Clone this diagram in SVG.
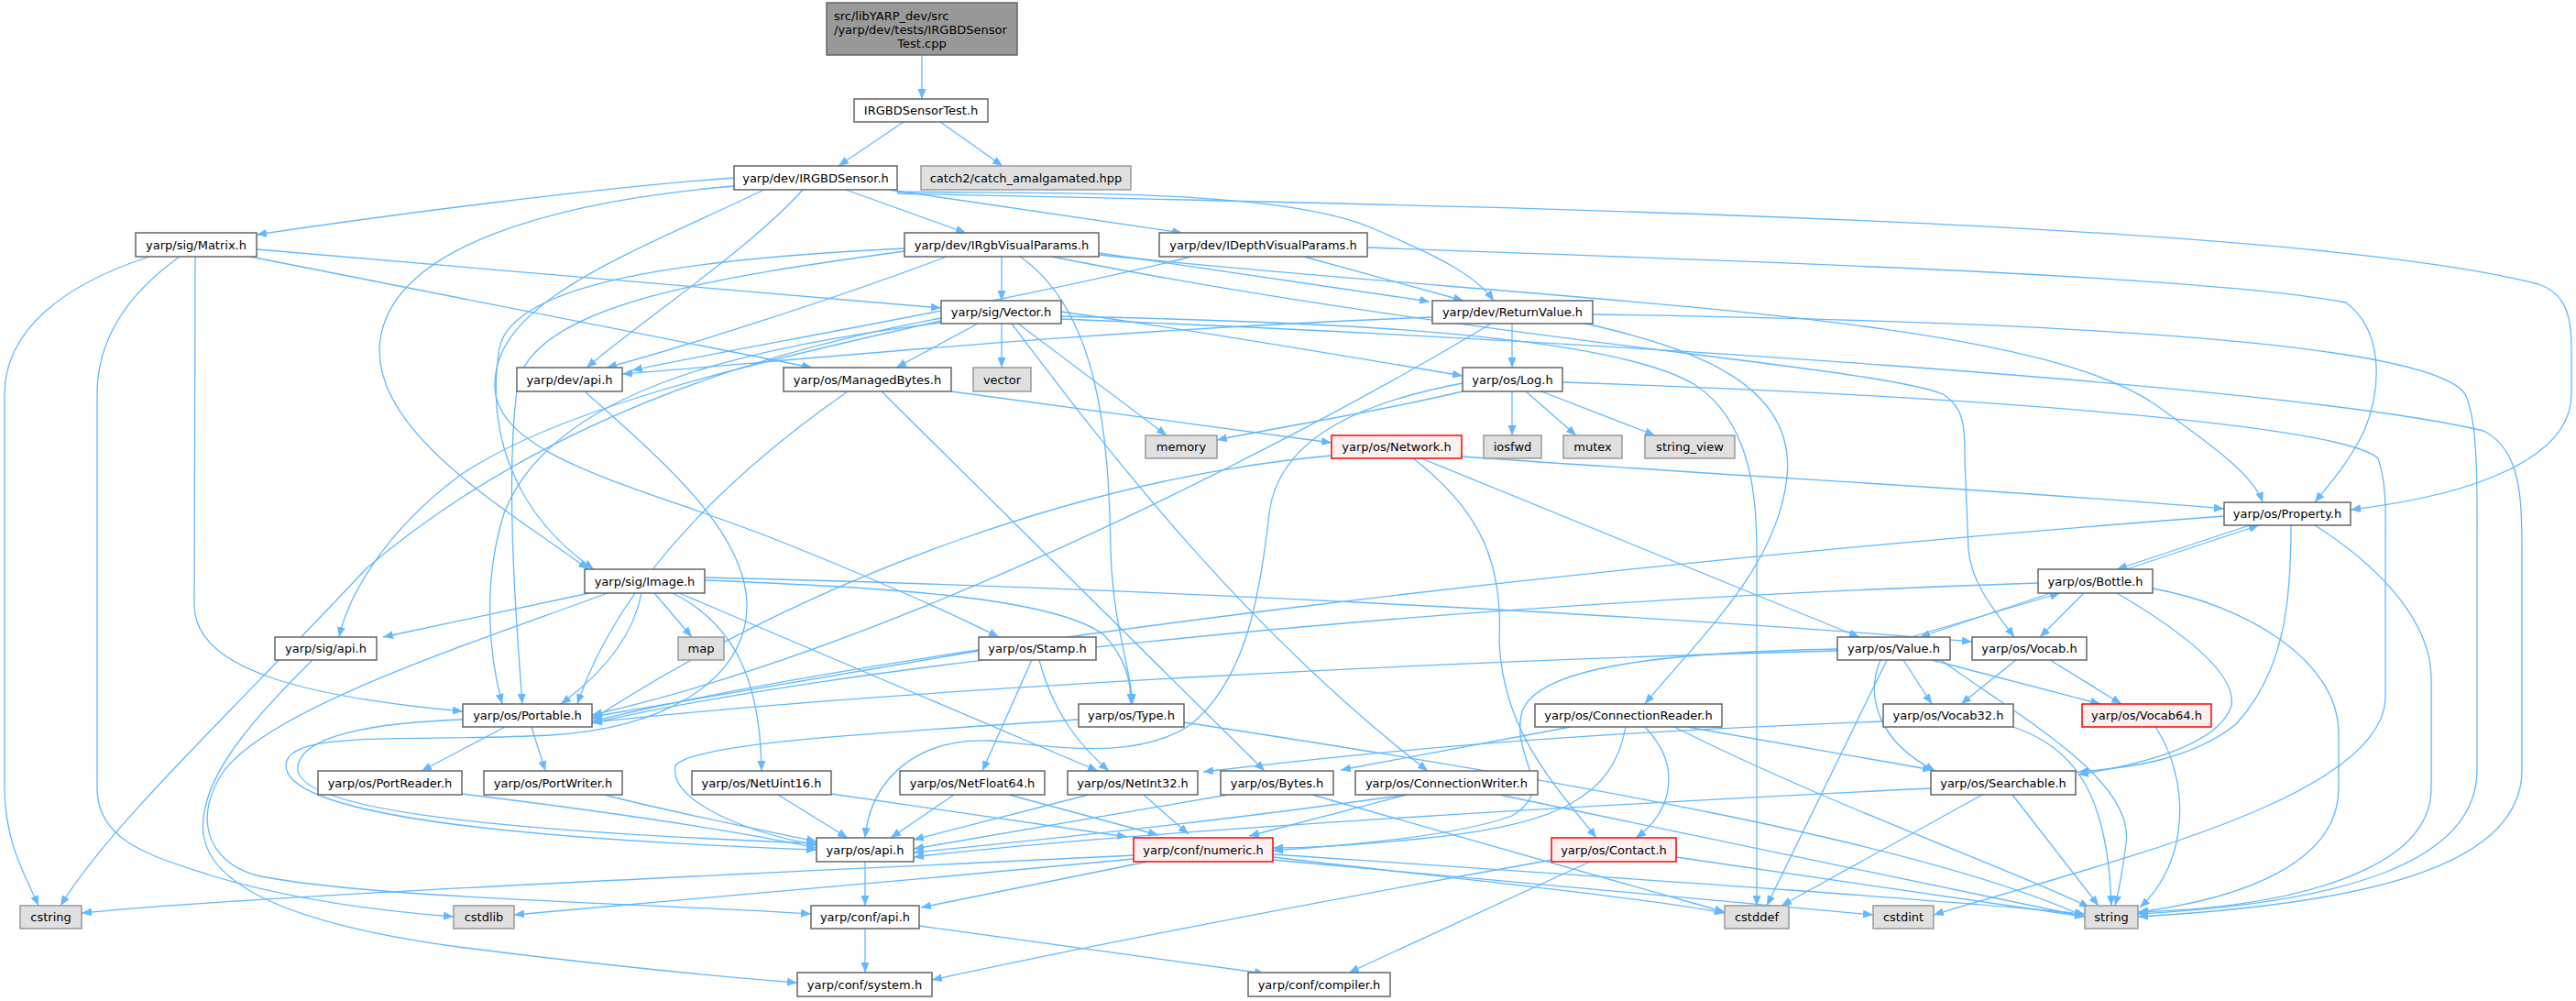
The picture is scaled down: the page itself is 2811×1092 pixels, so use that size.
<svg xmlns="http://www.w3.org/2000/svg" width="2811" height="1092" viewBox="0 0 2811 1092">
<defs>
<marker id="arr" markerUnits="userSpaceOnUse" markerWidth="12" markerHeight="9" refX="11" refY="4.5" orient="auto">
<path d="M0,0 L11,4.5 L0,9 z" fill="#63B8FF"/>
</marker>
<style>
.e{fill:none;stroke:#63B8FF;stroke-width:1.3;marker-end:url(#arr)}
.n rect{fill:#fff;stroke:#666;stroke-width:1.5}
.g rect{fill:#e0e0e0;stroke:#999;stroke-width:1.5}
.r rect{fill:#fff0f0;stroke:#f00;stroke-width:1.5}
.s rect{fill:#999;stroke:#666;stroke-width:1.5}
text{font-family:"DejaVu Sans","Liberation Sans",sans-serif;font-size:13px;fill:#000;text-anchor:middle}
</style>
</defs>
<rect width="2811" height="1092" fill="#fff"/>
<g id="edges">
<path class="e" d="M1006,60 L1006,108"/>
<path class="e" d="M986,133 L915,181"/>
<path class="e" d="M1026,133 L1094,181"/>
<path class="e" d="M801,194 C650,205 420,235 280,256"/>
<path class="e" d="M801,203 C600,220 430,270 415,370 C400,470 560,560 642,621"/>
<path class="e" d="M834,207 C680,280 540,330 540,420 C540,500 700,530 850,590 C950,630 1040,670 1090,695"/>
<path class="e" d="M876,207 C820,270 700,350 640,401"/>
<path class="e" d="M923,207 L1054,254"/>
<path class="e" d="M970,207 L1290,254"/>
<path class="e" d="M978,209 C1150,212 1400,205 1500,250 C1570,280 1610,300 1630,328"/>
<path class="e" d="M979,211 C1600,225 2500,240 2770,310 C2800,320 2806,345 2806,380 L2806,430 C2806,500 2700,540 2565,556"/>
<path class="e" d="M163,280 C70,310 5,360 5,430 L5,860 C5,920 30,960 42,988"/>
<path class="e" d="M196,280 C140,320 106,370 106,430 L106,860 C106,920 170,935 230,955 C330,985 430,995 495,1000"/>
<path class="e" d="M213,280 L212,660 C212,730 330,760 505,776"/>
<path class="e" d="M280,272 L1027,336"/>
<path class="e" d="M273,280 L886,401"/>
<path class="e" d="M1093,280 L1093,328"/>
<path class="e" d="M1033,280 C900,330 740,380 662,401"/>
<path class="e" d="M1199,276 L1560,329"/>
<path class="e" d="M1199,278 C1700,330 2200,340 2350,440 C2420,490 2460,520 2469,548"/>
<path class="e" d="M987,271 C800,280 560,300 545,380 C530,470 560,560 648,621"/>
<path class="e" d="M987,274 C800,300 580,330 565,420 C550,520 565,700 570,768"/>
<path class="e" d="M1113,280 C1200,340 1210,480 1212,600 C1214,680 1234,730 1236,768"/>
<path class="e" d="M1148,280 C1600,370 2050,400 2120,430 C2145,445 2144,470 2144,500 L2148,600 C2152,640 2180,670 2198,695"/>
<path class="e" d="M1300,280 C1100,330 800,380 690,404"/>
<path class="e" d="M1423,280 L1597,328"/>
<path class="e" d="M1492,270 C1900,285 2400,300 2560,330 C2600,360 2600,420 2580,470 C2560,510 2540,530 2526,548"/>
<path class="e" d="M1067,353 L978,401"/>
<path class="e" d="M1093,353 L1093,401"/>
<path class="e" d="M1111,353 L1273,475"/>
<path class="e" d="M1104,353 C1200,480 1350,680 1558,841"/>
<path class="e" d="M1158,340 C1300,360 1450,385 1596,410"/>
<path class="e" d="M1158,345 C1400,350 1750,360 1850,420 C1910,460 1917,540 1917,600 L1917,988"/>
<path class="e" d="M1158,348 C1700,370 2500,420 2710,470 C2750,490 2752,540 2752,600 L2752,840 C2752,940 2600,985 2333,1000"/>
<path class="e" d="M1027,347 C850,380 600,450 400,620 C250,780 120,900 66,988"/>
<path class="e" d="M1027,350 C800,400 600,450 500,520 C420,580 380,650 370,695"/>
<path class="e" d="M1027,352 C800,380 600,430 550,560 C525,640 535,720 548,768"/>
<path class="e" d="M1563,346 C1200,360 900,390 679,408"/>
<path class="e" d="M1627,353 C1450,460 1000,700 646,780"/>
<path class="e" d="M1650,353 L1650,401"/>
<path class="e" d="M1738,343 C2200,350 2650,370 2690,430 C2705,460 2703,540 2703,600 L2703,840 C2703,940 2560,985 2333,997"/>
<path class="e" d="M1730,353 C1850,380 1960,420 1950,520 C1940,620 1850,700 1795,768"/>
<path class="e" d="M925,427 C820,500 680,620 630,768"/>
<path class="e" d="M962,427 L1380,841"/>
<path class="e" d="M1038,427 L1453,483"/>
<path class="e" d="M1596,427 C1500,450 1400,465 1328,480"/>
<path class="e" d="M1596,418 C1480,440 1395,480 1385,560 C1375,650 1360,740 1300,790 C1240,830 1160,815 1080,808 C1000,805 950,850 944,914"/>
<path class="e" d="M1650,427 L1650,475"/>
<path class="e" d="M1665,427 L1720,475"/>
<path class="e" d="M1682,427 L1806,475"/>
<path class="e" d="M1705,417 C2100,430 2550,460 2595,500 C2605,530 2603,560 2603,600 L2603,760 C2603,870 2300,940 2110,998"/>
<path class="e" d="M1595,498 C1900,520 2200,535 2427,555"/>
<path class="e" d="M1551,500 L2029,695"/>
<path class="e" d="M1542,500 C1620,560 1640,620 1636,700 C1640,800 1700,860 1742,914"/>
<path class="e" d="M1453,497 C1200,520 900,620 646,785"/>
<path class="e" d="M2427,563 C1800,610 1000,700 646,787"/>
<path class="e" d="M2455,573 L2310,621"/>
<path class="e" d="M2320,621 L2465,573"/>
<path class="e" d="M2500,573 C2500,650 2495,730 2440,790 C2390,830 2320,838 2268,842"/>
<path class="e" d="M2526,573 C2600,620 2653,680 2653,740 L2653,860 C2653,950 2500,990 2333,995"/>
<path class="e" d="M643,647 L418,695"/>
<path class="e" d="M663,647 C520,700 300,770 245,840 C210,890 225,940 280,955 C400,980 700,985 885,997"/>
<path class="e" d="M700,647 C690,700 650,740 612,768"/>
<path class="e" d="M714,647 L755,695"/>
<path class="e" d="M734,647 C800,680 830,740 831,841"/>
<path class="e" d="M741,647 L1198,841"/>
<path class="e" d="M769,633 C950,640 1150,650 1205,693 C1230,720 1234,745 1234,768"/>
<path class="e" d="M769,630 C1200,640 1800,670 2152,700"/>
<path class="e" d="M1068,710 C900,740 750,765 646,782"/>
<path class="e" d="M1126,720 L1072,841"/>
<path class="e" d="M1134,720 C1150,780 1180,815 1210,841"/>
<path class="e" d="M1177,785 C950,800 760,810 737,835 C730,870 800,905 891,922"/>
<path class="e" d="M1292,788 C1700,850 2100,920 2275,1000"/>
<path class="e" d="M551,793 L460,841"/>
<path class="e" d="M580,793 L595,841"/>
<path class="e" d="M505,785 C420,788 323,800 325,840 C330,880 500,905 891,920"/>
<path class="e" d="M504,866 C700,890 820,910 891,925"/>
<path class="e" d="M659,867 C750,890 830,905 891,918"/>
<path class="e" d="M341,720 C280,780 215,850 222,910 C230,970 330,1010 500,1033 C650,1052 780,1065 870,1072"/>
<path class="e" d="M638,427 C720,500 815,580 815,660 C815,745 720,795 600,802 C450,810 312,795 312,835 C312,880 480,912 891,927"/>
<path class="e" d="M944,940 L944,988"/>
<path class="e" d="M944,1013 L944,1061"/>
<path class="e" d="M1003,1010 L1380,1062"/>
<path class="e" d="M849,867 L925,914"/>
<path class="e" d="M907,866 L1230,913"/>
<path class="e" d="M1041,867 L972,914"/>
<path class="e" d="M1101,867 L1264,911"/>
<path class="e" d="M1188,867 L997,916"/>
<path class="e" d="M1248,867 L1297,910"/>
<path class="e" d="M1340,867 L997,926"/>
<path class="e" d="M1432,867 L1882,995"/>
<path class="e" d="M1535,867 C1300,900 1100,920 997,930"/>
<path class="e" d="M1535,867 L1363,912"/>
<path class="e" d="M1636,867 L2275,1000"/>
<path class="e" d="M1714,793 L1463,840"/>
<path class="e" d="M1774,793 C1760,870 1700,900 1550,915 C1480,922 1430,925 1389,925"/>
<path class="e" d="M1795,793 C1840,840 1820,890 1785,914"/>
<path class="e" d="M1841,793 L2109,840"/>
<path class="e" d="M1827,793 C2000,880 2200,950 2280,990"/>
<path class="e" d="M2005,710 C1600,720 1000,750 646,788"/>
<path class="e" d="M2005,708 C1800,712 1670,730 1660,780 C1650,830 1700,860 1650,890 C1580,915 1450,923 1389,928"/>
<path class="e" d="M2085,695 L2248,647"/>
<path class="e" d="M2238,647 L2095,695"/>
<path class="e" d="M2077,720 L2108,768"/>
<path class="e" d="M2108,720 L2292,768"/>
<path class="e" d="M2052,720 C2035,760 2050,810 2112,841"/>
<path class="e" d="M2059,720 L1928,988"/>
<path class="e" d="M2118,720 C2200,780 2330,850 2320,920 C2315,960 2310,980 2308,988"/>
<path class="e" d="M2224,636 C1500,660 900,730 646,789"/>
<path class="e" d="M2274,647 L2226,695"/>
<path class="e" d="M2310,647 C2400,700 2440,740 2435,770 C2420,815 2330,835 2268,845"/>
<path class="e" d="M2349,642 C2450,660 2552,720 2552,800 L2552,860 C2552,940 2450,980 2333,995"/>
<path class="e" d="M2200,720 L2140,768"/>
<path class="e" d="M2237,720 L2315,768"/>
<path class="e" d="M2197,793 C2260,815 2300,860 2304,988"/>
<path class="e" d="M2055,787 C1700,800 1500,820 1313,842"/>
<path class="e" d="M2352,793 C2390,850 2390,940 2335,990"/>
<path class="e" d="M2107,860 C1700,880 1200,910 997,935"/>
<path class="e" d="M2163,867 L1944,988"/>
<path class="e" d="M2196,867 L2290,988"/>
<path class="e" d="M1694,938 C1400,990 1150,1040 1017,1069"/>
<path class="e" d="M1735,940 L1472,1061"/>
<path class="e" d="M1829,935 L2275,1000"/>
<path class="e" d="M1237,933 C900,950 300,975 89,996"/>
<path class="e" d="M1237,937 C1000,960 700,985 561,998"/>
<path class="e" d="M1252,940 L1005,990"/>
<path class="e" d="M1389,935 C1600,960 1800,980 1882,996"/>
<path class="e" d="M1389,938 C1700,965 1900,985 2044,998"/>
<path class="e" d="M1389,932 C1800,960 2100,980 2275,997"/>
</g>
<g id="src" class="s"><rect x="902" y="3" width="208" height="57"/><text x="910" y="21.5" style="text-anchor:start">src/libYARP_dev/src</text><text x="910" y="36.5" style="text-anchor:start">/yarp/dev/tests/IRGBDSensor</text><text x="1006" y="51.5">Test.cpp</text></g>
<g id="IRGBDSensorTest" class="n"><rect x="932" y="108" width="146" height="25"/><text x="1005" y="125">IRGBDSensorTest.h</text></g>
<g id="IRGBDSensor" class="n"><rect x="801" y="181" width="178" height="26"/><text x="890" y="198.5">yarp/dev/IRGBDSensor.h</text></g>
<g id="catch2" class="g"><rect x="1005" y="181" width="229" height="26"/><text x="1119.5" y="198.5">catch2/catch_amalgamated.hpp</text></g>
<g id="Matrix" class="n"><rect x="148" y="254" width="132" height="26"/><text x="214" y="271.5">yarp/sig/Matrix.h</text></g>
<g id="IRgbVisualParams" class="n"><rect x="987" y="254" width="212" height="26"/><text x="1093" y="271.5">yarp/dev/IRgbVisualParams.h</text></g>
<g id="IDepthVisualParams" class="n"><rect x="1265" y="254" width="227" height="26"/><text x="1378.5" y="271.5">yarp/dev/IDepthVisualParams.h</text></g>
<g id="Vector" class="n"><rect x="1027" y="328" width="131" height="25"/><text x="1092.5" y="345">yarp/sig/Vector.h</text></g>
<g id="ReturnValue" class="n"><rect x="1563" y="328" width="175" height="25"/><text x="1650.5" y="345">yarp/dev/ReturnValue.h</text></g>
<g id="devapi" class="n"><rect x="564" y="401" width="115" height="26"/><text x="621.5" y="418.5">yarp/dev/api.h</text></g>
<g id="ManagedBytes" class="n"><rect x="855" y="401" width="183" height="26"/><text x="946.5" y="418.5">yarp/os/ManagedBytes.h</text></g>
<g id="vector" class="g"><rect x="1062" y="401" width="63" height="26"/><text x="1093.5" y="418.5">vector</text></g>
<g id="Log" class="n"><rect x="1596" y="401" width="109" height="26"/><text x="1650.5" y="418.5">yarp/os/Log.h</text></g>
<g id="memory" class="g"><rect x="1250" y="475" width="78" height="25"/><text x="1289" y="492">memory</text></g>
<g id="Network" class="r"><rect x="1453" y="475" width="142" height="25"/><text x="1524" y="492">yarp/os/Network.h</text></g>
<g id="iosfwd" class="g"><rect x="1619" y="475" width="63" height="25"/><text x="1650.5" y="492">iosfwd</text></g>
<g id="mutex" class="g"><rect x="1706" y="475" width="64" height="25"/><text x="1738" y="492">mutex</text></g>
<g id="string_view" class="g"><rect x="1795" y="475" width="98" height="25"/><text x="1844" y="492">string_view</text></g>
<g id="Property" class="n"><rect x="2427" y="548" width="138" height="25"/><text x="2496" y="565">yarp/os/Property.h</text></g>
<g id="Image" class="n"><rect x="638" y="621" width="131" height="26"/><text x="703.5" y="638.5">yarp/sig/Image.h</text></g>
<g id="Bottle" class="n"><rect x="2224" y="621" width="125" height="26"/><text x="2286.5" y="638.5">yarp/os/Bottle.h</text></g>
<g id="sigapi" class="n"><rect x="300" y="695" width="111" height="25"/><text x="355.5" y="712">yarp/sig/api.h</text></g>
<g id="map" class="g"><rect x="740" y="695" width="50" height="25"/><text x="765" y="712">map</text></g>
<g id="Stamp" class="n"><rect x="1068" y="695" width="128" height="25"/><text x="1132" y="712">yarp/os/Stamp.h</text></g>
<g id="Value" class="n"><rect x="2005" y="695" width="123" height="25"/><text x="2066.5" y="712">yarp/os/Value.h</text></g>
<g id="Vocab" class="n"><rect x="2152" y="695" width="125" height="25"/><text x="2214.5" y="712">yarp/os/Vocab.h</text></g>
<g id="Portable" class="n"><rect x="505" y="768" width="141" height="25"/><text x="575.5" y="785">yarp/os/Portable.h</text></g>
<g id="Type" class="n"><rect x="1177" y="768" width="115" height="25"/><text x="1234.5" y="785">yarp/os/Type.h</text></g>
<g id="ConnectionReader" class="n"><rect x="1675" y="768" width="204" height="25"/><text x="1777" y="785">yarp/os/ConnectionReader.h</text></g>
<g id="Vocab32" class="n"><rect x="2055" y="768" width="142" height="25"/><text x="2126" y="785">yarp/os/Vocab32.h</text></g>
<g id="Vocab64" class="r"><rect x="2272" y="768" width="141" height="25"/><text x="2342.5" y="785">yarp/os/Vocab64.h</text></g>
<g id="PortReader" class="n"><rect x="347" y="841" width="157" height="26"/><text x="425.5" y="858.5">yarp/os/PortReader.h</text></g>
<g id="PortWriter" class="n"><rect x="528" y="841" width="151" height="26"/><text x="603.5" y="858.5">yarp/os/PortWriter.h</text></g>
<g id="NetUint16" class="n"><rect x="755" y="841" width="152" height="26"/><text x="831" y="858.5">yarp/os/NetUint16.h</text></g>
<g id="NetFloat64" class="n"><rect x="982" y="841" width="158" height="26"/><text x="1061" y="858.5">yarp/os/NetFloat64.h</text></g>
<g id="NetInt32" class="n"><rect x="1165" y="841" width="142" height="26"/><text x="1236" y="858.5">yarp/os/NetInt32.h</text></g>
<g id="Bytes" class="n"><rect x="1332" y="841" width="123" height="26"/><text x="1393.5" y="858.5">yarp/os/Bytes.h</text></g>
<g id="ConnectionWriter" class="n"><rect x="1479" y="841" width="199" height="26"/><text x="1578.5" y="858.5">yarp/os/ConnectionWriter.h</text></g>
<g id="Searchable" class="n"><rect x="2107" y="841" width="158" height="26"/><text x="2186" y="858.5">yarp/os/Searchable.h</text></g>
<g id="osapi" class="n"><rect x="891" y="914" width="106" height="26"/><text x="944" y="931.5">yarp/os/api.h</text></g>
<g id="numeric" class="r"><rect x="1237" y="914" width="152" height="26"/><text x="1313" y="931.5">yarp/conf/numeric.h</text></g>
<g id="Contact" class="r"><rect x="1693" y="914" width="136" height="26"/><text x="1761" y="931.5">yarp/os/Contact.h</text></g>
<g id="cstring" class="g"><rect x="22" y="988" width="67" height="25"/><text x="55.5" y="1005">cstring</text></g>
<g id="cstdlib" class="g"><rect x="495" y="988" width="66" height="25"/><text x="528" y="1005">cstdlib</text></g>
<g id="confapi" class="n"><rect x="885" y="988" width="118" height="25"/><text x="944" y="1005">yarp/conf/api.h</text></g>
<g id="cstddef" class="g"><rect x="1882" y="988" width="70" height="25"/><text x="1917" y="1005">cstddef</text></g>
<g id="cstdint" class="g"><rect x="2044" y="988" width="66" height="25"/><text x="2077" y="1005">cstdint</text></g>
<g id="string" class="g"><rect x="2275" y="988" width="58" height="25"/><text x="2304" y="1005">string</text></g>
<g id="system" class="n"><rect x="870" y="1061" width="147" height="26"/><text x="943.5" y="1078.5">yarp/conf/system.h</text></g>
<g id="compiler" class="n"><rect x="1362" y="1061" width="155" height="26"/><text x="1439.5" y="1078.5">yarp/conf/compiler.h</text></g>
</svg>
